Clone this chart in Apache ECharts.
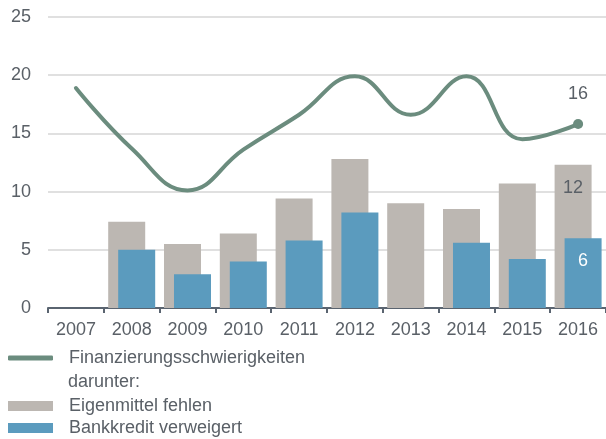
<!DOCTYPE html>
<html>
<head>
<meta charset="utf-8">
<script src="https://cdn.jsdelivr.net/npm/echarts@6/dist/echarts.min.js"></script>
<style>
  html, body { margin: 0; padding: 0; background: #fff; }
  #chart { width: 606px; height: 439px; }
</style>
</head>
<body>
<div id="chart"></div>
<script>
var years = ['2007', '2008', '2009', '2010', '2011', '2012', '2013', '2014', '2015', '2016'];
var finanzierung = [18.9, 13.7, 10.1, 13.6, 16.6, 19.9, 16.6, 19.9, 14.5, 15.8];
var eigenmittel = [null, 7.4, 5.5, 6.4, 9.4, 12.8, 9.0, 8.5, 10.7, 12.3];
var bankkredit = [null, 5.0, 2.9, 4.0, 5.8, 8.2, null, 5.6, 4.2, 6.0];
var yTicks = [0, 5, 10, 15, 20, 25];

(function() {
  var myChart = echarts.init(document.getElementById('chart'));
  var last = years.length - 1;
  var textColor = '#5a6067';
  var font = 'Liberation Sans, Arial, sans-serif';
  var fs = 18;

  // nur der letzte Wert bekommt ein Label
  function lastLabel(p) {
    return p.dataIndex === last ? String(Math.round(p.value)) : '';
  }

  function legendItem(name, top, icon, h) {
    return {
      data: [name],
      left: 8,
      top: top,
      padding: 0,
      icon: icon,
      itemWidth: 45,
      itemHeight: h,
      textStyle: { color: textColor, fontSize: fs, padding: [0, 0, 0, 11] }
    };
  }

  var option = {
    animation: false,
    textStyle: { fontFamily: font },
    grid: { left: 48, right: 0, top: 17, bottom: 131 },
    legend: [
      legendItem('Finanzierungsschwierigkeiten', 349, 'roundRect', 5),
      legendItem('Eigenmittel fehlen', 397, 'rect', 10),
      legendItem('Bankkredit verweigert', 419, 'rect', 10)
    ],
    graphic: [
      {
        type: 'text',
        left: 68,
        top: 373,
        style: { text: 'darunter:', fill: textColor, font: fs + 'px ' + font }
      }
    ],
    xAxis: {
      type: 'category',
      data: years,
      axisLine: { lineStyle: { color: '#5a6470', width: 2 } },
      axisTick: { show: true, interval: 0, length: 5, lineStyle: { color: '#5a6470', width: 2 } },
      axisLabel: { color: textColor, fontSize: fs, margin: 13 }
    },
    yAxis: {
      type: 'value',
      min: yTicks[0],
      max: yTicks[yTicks.length - 1],
      interval: 5,
      axisLine: { show: false },
      axisTick: { show: false },
      axisLabel: { color: textColor, fontSize: fs, margin: 17 },
      splitLine: { lineStyle: { color: '#e0e0e0', width: 2 } }
    },
    series: [
      {
        name: 'Eigenmittel fehlen',
        type: 'bar',
        barWidth: 37,
        barGap: '-73%',
        itemStyle: { color: '#bcb7b2' },
        label: {
          show: true,
          position: 'insideTop',
          distance: 14,
          color: '#5a6067',
          fontSize: fs,
          formatter: lastLabel
        },
        data: eigenmittel
      },
      {
        name: 'Bankkredit verweigert',
        type: 'bar',
        barWidth: 37,
        itemStyle: { color: '#5b9bbe' },
        label: {
          show: true,
          position: 'insideTop',
          distance: 14,
          color: '#ffffff',
          fontSize: fs,
          formatter: lastLabel
        },
        data: bankkredit
      },
      {
        name: 'Finanzierungsschwierigkeiten',
        type: 'line',
        smooth: 0.45,
        showSymbol: true,
        symbol: 'circle',
        symbolSize: function(v, p) { return p.dataIndex === last ? 10 : 0; },
        lineStyle: { color: '#6b8c7e', width: 4, cap: 'round' },
        itemStyle: { color: '#6b8c7e' },
        label: {
          show: true,
          position: 'top',
          distance: 16,
          color: '#5a6067',
          fontSize: fs,
          formatter: lastLabel
        },
        data: finanzierung
      }
    ]
  };

  myChart.setOption(option);
})();
</script>
</body>
</html>
